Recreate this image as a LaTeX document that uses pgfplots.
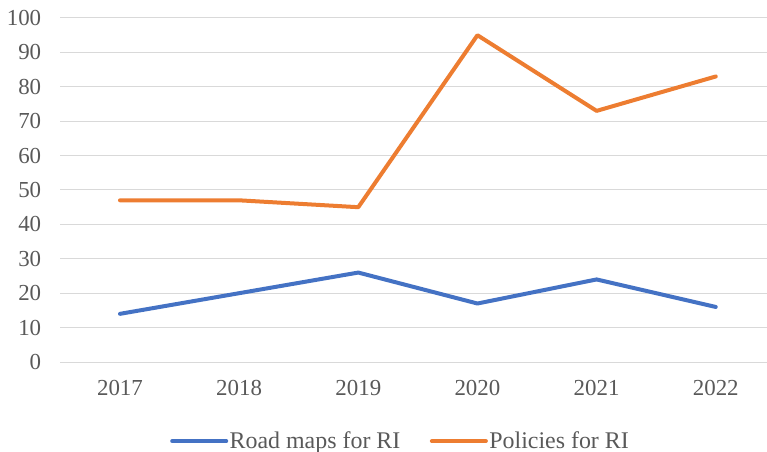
\documentclass[border=0pt]{standalone}
\usepackage{fontspec}
\setmainfont{Liberation Serif}
\usepackage{pgfplots}
\pgfplotsset{compat=1.18}
\definecolor{blue1}{HTML}{4472C4}
\definecolor{orange1}{HTML}{ED7D31}
\definecolor{grid1}{HTML}{D9D9D9}
\definecolor{txt}{HTML}{595959}
\begin{document}
\begin{tikzpicture}
\useasboundingbox (-60.4bp,-90bp) rectangle (706.6bp,362bp);
\begin{axis}[at={(0,0)}, anchor=south west, scale only axis,
  width=706.6bp, height=344bp,
  xmin=-0.5, xmax=5.43, ymin=0, ymax=100,
  ytick={0,10,...,100}, xtick={0,...,5},
  xticklabels={2017,2018,2019,2020,2021,2022},
  ymajorgrids, grid style={grid1, line width=1bp},
  axis line style={draw=none}, major tick length=0pt, tick style={draw=none},
  /pgf/number format/assume math mode=true,
  ticklabel style={font=\fontsize{23}{27}\selectfont, text=txt, inner sep=0pt},
  yticklabel style={anchor=east, xshift=-19bp},
  xticklabel style={anchor=north, yshift=-18bp},
  legend style={at={(0.481,-0.23)}, anchor=center, draw=none, fill=none,
    legend columns=2, font=\fontsize{24}{28}\selectfont, text=txt,
    nodes={inner sep=1.5bp},
    /tikz/every even column/.append style={column sep=28bp}},
  legend image code/.code={\draw[#1, line width=4bp, line cap=round] (0bp,0bp) -- (54bp,0bp);},
  clip=false,
]
\addplot[blue1, line width=4bp, line cap=round, line join=round] coordinates {(0,14) (1,20) (2,26) (3,17) (4,24) (5,16)};
\addlegendentry{Road maps for RI}
\addplot[orange1, line width=4bp, line cap=round, line join=round] coordinates {(0,47) (1,47) (2,45) (3,95) (4,73) (5,83)};
\addlegendentry{Policies for RI}
\end{axis}
\end{tikzpicture}
\end{document}
